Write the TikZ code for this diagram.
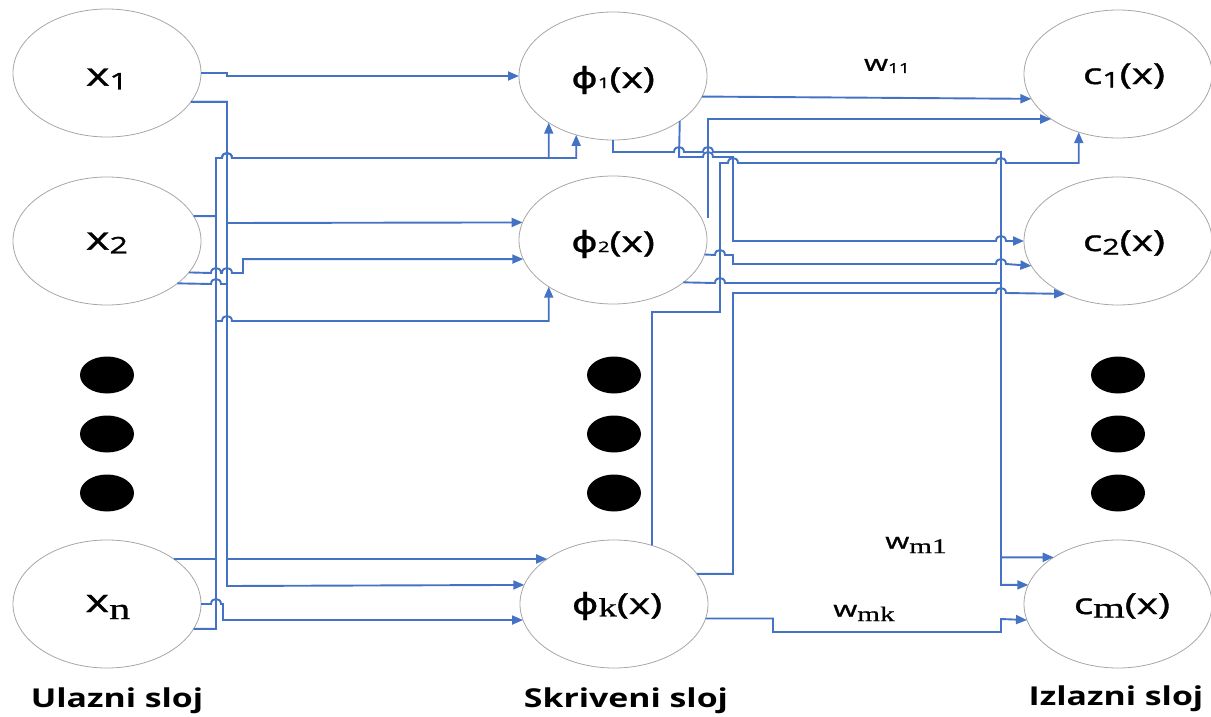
\documentclass[tikz,border=0pt]{standalone}
\usepackage{fontspec}
\setmainfont{Open Sans}
\newfontfamily\nf{Open Sans}[FakeBold=1.0]
\newfontfamily\djv{DejaVu Sans}[FakeBold=0.6]
\newfontfamily\srf{Liberation Serif}[FakeBold=0.6]
\usepackage{graphicx}
\usetikzlibrary{shapes.geometric,arrows.meta,calc}
\definecolor{lnblue}{HTML}{4472C4}
\definecolor{ringgray}{HTML}{A6A6A6}
\newcommand\sx[1]{\scalebox{1.4}[1]{#1}}
\newcommand\sxl[1]{\scalebox{1.3}[1]{#1}}
% subscript: scale, drop, content
\newcommand\sbd[3]{\raisebox{#2}{\scalebox{#1}{#3}}}
\begin{document}
\begin{tikzpicture}[x=1pt,y=-1pt,
  neuron/.style={ellipse, draw=ringgray, line width=0.8pt, minimum width=188pt, minimum height=128pt, inner sep=0pt, outer sep=0pt},
  infont/.style={font=\nf\fontsize{32}{34}\selectfont},
  hidfont/.style={font=\nf\fontsize{29}{32}\selectfont},
  outfont/.style={font=\nf\fontsize{29}{32}\selectfont},
  txt/.style={inner sep=0pt},
  blob/.style={ellipse, fill=black, minimum width=54pt, minimum height=37pt, inner sep=0pt},
  layerlabel/.style={font=\bfseries\fontsize{26}{30}\selectfont, inner sep=0pt},
  wlabel/.style={font=\nf\fontsize{22}{26}\selectfont, inner sep=0pt},
  wire/.style={draw=lnblue, line width=1.9pt},
  arr/.style={wire, -{Triangle[length=11pt,width=9pt]}},
  hop/.style args={#1/#2}{insert path={-- ({#1-5},#2) .. controls ({#1-5},{#2-6.7}) and ({#1+5},{#2-6.7}) .. ({#1+5},#2)}}
]
\useasboundingbox (0,0) rectangle (1211,717);

% neurons
\node[neuron] (x1) at (107,73) {};
\node[neuron] (x2) at (107,241) {};
\node[neuron] (xn) at (107,604) {};
\node[neuron] (h1) at (613,76) {};
\node[neuron] (h2) at (613,240) {};
\node[neuron] (hk) at (614,604) {};
\node[neuron] (c1) at (1118,74) {};
\node[neuron] (c2) at (1118,241) {};
\node[neuron] (cm) at (1118,604) {};

% neuron texts
\node[txt,infont] (tx1) at ($(x1.center)+(0,6)$) {\sx{x\sbd{0.72}{-0.12em}{1}}};
\node[txt,infont] (tx2) at ($(x2.center)+(0,2)$) {\sx{x\sbd{0.72}{-0.12em}{2}}};
\node[txt,infont] (txn) at ($(xn.center)+(1,3)$) {\sx{x\sbd{0.95}{-0.22em}{\srf n}}};
\node[txt,hidfont] (th1) at ($(h1.center)+(0,4)$) {\sx{{\djv ϕ}\sbd{0.5}{0em}{1}(x)}};
\node[txt,hidfont] (th2) at ($(h2.center)+(0,4)$) {\sx{{\djv ϕ}\sbd{0.5}{0em}{2}(x)}};
\node[txt,hidfont] (thk) at ($(hk.center)+(3,2)$) {\sx{{\djv ϕ}\sbd{0.9}{-0.08em}{\srf k}(x)}};
\node[txt,outfont] (tc1) at ($(c1.center)+(6,2)$) {\sx{c\sbd{0.75}{-0.12em}{1}(x)}};
\node[txt,outfont] (tc2) at ($(c2.center)+(6,2)$) {\sx{c\sbd{0.75}{-0.12em}{2}(x)}};
\node[txt,outfont] (tcm) at ($(cm.center)+(4,2)$) {\sx{c\sbd{1}{-0.12em}{\srf m}(x)}};

% ellipsis dots
\node[blob] (dl1) at (107,375) {};
\node[blob] (dl2) at (107,434) {};
\node[blob] (dl3) at (107,493) {};
\node[blob] (dm1) at (614,375) {};
\node[blob] (dm2) at (614,434) {};
\node[blob] (dm3) at (614,493) {};
\node[blob] (dr1) at (1118,375) {};
\node[blob] (dr2) at (1118,434) {};
\node[blob] (dr3) at (1118,493) {};

% layer labels
\node[layerlabel] (lin) at (117,701) {\sxl{Ulazni sloj}};
\node[layerlabel] (lhid) at (626,701) {\sxl{Skriveni sloj}};
\node[layerlabel] (lout) at (1116,699) {\sxl{Izlazni sloj}};

% weight labels
\node[wlabel] (w11) at (887,66) {\sx{w\sbd{0.62}{-0.1em}{11}}};
\node[wlabel] (wm1) at (916,545) {\sx{w\sbd{0.95}{-0.2em}{\srf m1}}};
\node[wlabel] (wmk) at (864,613) {\sx{w\sbd{0.95}{-0.2em}{\srf mk}}};

% input -> hidden
\draw[arr] (x1.east) -| (227,76) -- (h1.west);
\draw[arr] (x1.-19.1) -| (227,223) -- (h2.169.4);
\draw[arr] (x1.-19.1) -| (227,586) -- (hk.168.7);
\draw[arr] (x2.16.8) -| (216,158) [hop=227/158] -| (h1.-144.6);
\draw[arr] (xn.-16.1) -| (216,158) [hop=227/158] -| (h1.-122.2);
\draw[arr] (xn.34) -| (216,321) [hop=227/321] -| (h2.-144.6);
\draw[arr] (x2.-21.5) [hop=216/273] [hop=227/273] -- (243,273) |- (h2.-168.1);
\draw[arr] (x2.-31.7) [hop=216/284] -| (227,559) -- (hk.146);
\draw[arr] (xn.east) [hop=216/604] -- (223,604) |- (hk.-170.7);

% hidden -> output
\draw[arr] (h1.-13.3) -- (c1.-164.7);
\draw[arr] ($(h2.east)+(1,-22)$) |- (c1.-146.1);
\draw[arr] (hk.57.8) |- (720,312) -- (720,163) [hop=733/163] [hop=1001/163] -| (c1.-124.1);
\draw[arr] (h1.-34.6) -- (679,157) [hop=708/157] -| (733,241) [hop=1001/241] -- (c2.west);
\draw[arr] (h2.-9.3) [hop=720/255] -| (733,264) [hop=1001/264] -- (c2.-164.7);
\draw[arr] (hk.20.7) -| (733,293) [hop=1001/293] -- (c2.-135.3);
\draw[arr] (h1.south) -- (613,152) [hop=679/152] [hop=708/152] -- (1001,152) |- (cm.144.9);
\draw[arr] (h2.-31.7) [hop=720/283] -- (1001,283) |- (cm.168.9);
\draw[arr] (hk.-9.3) -| (773,632) -| (1001,619) -- (cm.-170.3);
\end{tikzpicture}
\end{document}
